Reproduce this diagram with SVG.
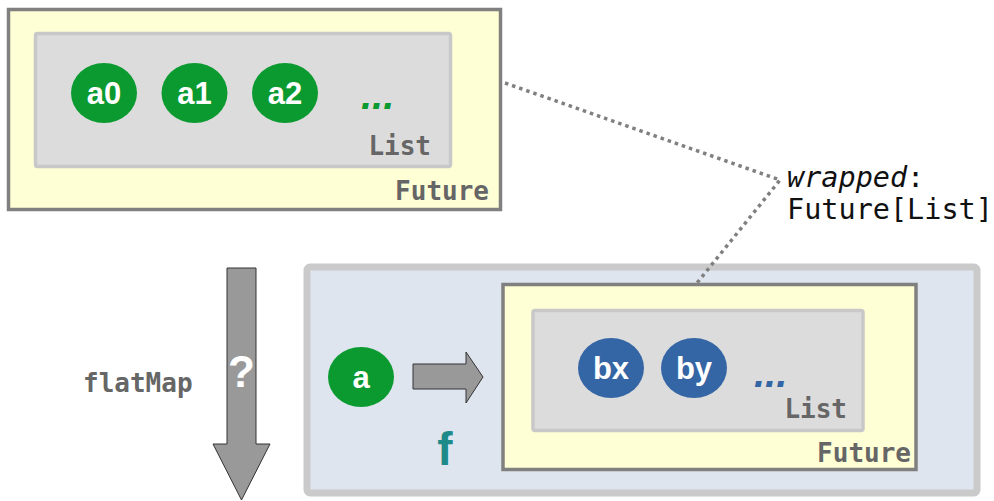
<svg xmlns="http://www.w3.org/2000/svg" width="994" height="501" viewBox="0 0 994 501">
  <style>
    .future { fill: #ffffd6; stroke: #808080; stroke-width: 3.5; }
    .list { fill: #dcdcdc; stroke: #c8c8c8; stroke-width: 3.5; }
    .scope { fill: #dfe5ee; stroke: #cacaca; stroke-width: 7; }
    .tag { font-family: "DejaVu Sans Mono", "Liberation Mono", monospace; font-weight: bold; font-size: 26px; fill: #666666; }
    .val { font-family: "Liberation Sans", Arial, sans-serif; font-weight: bold; font-size: 31px; fill: #ffffff; text-anchor: middle; }
    .green { fill: #0a9a30; }
    .blue { fill: #3465a4; }
    .more { font-family: "Liberation Sans", Arial, sans-serif; font-weight: bold; font-style: italic; font-size: 40px; }
    .bigarrow { fill: #999999; stroke: #333333; stroke-width: 1; }
    .note { font-family: "DejaVu Sans Mono", "Liberation Mono", monospace; font-size: 28.5px; fill: #111111; }
  </style>

  <!-- Future[List[A]] at the top -->
  <g id="future-a">
    <rect class="future" x="8.5" y="9.5" width="492" height="200"/>
    <text class="tag" x="489" y="200" text-anchor="end">Future</text>
  </g>
  <g id="list-a">
    <rect class="list" x="35.5" y="33.5" width="415" height="133" rx="2"/>
    <text class="tag" x="431" y="155" text-anchor="end">List</text>
    <text class="more" x="361" y="109" fill="#0a9a30">...</text>
  </g>
  <g id="a0">
    <ellipse class="green" cx="104" cy="93" rx="33" ry="30"/>
    <text class="val" x="104" y="104">a0</text>
  </g>
  <g id="a1">
    <ellipse class="green" cx="194.5" cy="93" rx="33" ry="30"/>
    <text class="val" x="194.5" y="104">a1</text>
  </g>
  <g id="a2">
    <ellipse class="green" cx="285" cy="93" rx="33" ry="30"/>
    <text class="val" x="285" y="104">a2</text>
  </g>

  <!-- flatMap step -->
  <g id="flatmap">
    <polygon class="bigarrow" points="227,268 256,268 256,444 270,444 241.5,500 213,444 227,444"/>
    <text x="241.5" y="387" text-anchor="middle" font-family="Liberation Sans, Arial, sans-serif" font-weight="bold" font-size="44" fill="#ffffff">?</text>
    <text class="tag" x="83" y="392">flatMap</text>
  </g>

  <!-- function f : A => Future[List[B]] -->
  <g id="f-scope">
    <rect class="scope" x="307" y="267" width="670" height="226" rx="3"/>
    <text x="445" y="465" text-anchor="middle" font-family="Liberation Sans, Arial, sans-serif" font-weight="bold" font-size="46" fill="#1f8a8a">f</text>
  </g>
  <g id="a">
    <ellipse class="green" cx="361" cy="377" rx="33" ry="30"/>
    <text class="val" x="361" y="388">a</text>
  </g>
  <g id="maps-to">
    <polygon class="bigarrow" points="413,364 466,364 466,352 483,377 466,403 466,389 413,389"/>
  </g>
  <g id="future-b">
    <rect class="future" x="503" y="284.5" width="413" height="185"/>
    <text class="tag" x="911" y="462" text-anchor="end">Future</text>
  </g>
  <g id="list-b">
    <rect class="list" x="533" y="310.5" width="330" height="120" rx="2"/>
    <text class="tag" x="847" y="418" text-anchor="end">List</text>
    <text class="more" x="754" y="387" fill="#3465a4">...</text>
  </g>
  <g id="bx">
    <ellipse class="blue" cx="611" cy="368" rx="33" ry="30"/>
    <text class="val" x="611" y="379">bx</text>
  </g>
  <g id="by">
    <ellipse class="blue" cx="694" cy="368" rx="33" ry="30"/>
    <text class="val" x="694" y="379">by</text>
  </g>

  <!-- annotation -->
  <g id="connectors">
    <polyline points="505,83 780,180 697,283" fill="none" stroke="#808080" stroke-width="3.5" stroke-dasharray="3.5 4"/>
  </g>
  <g id="wrapped-note">
    <text class="note" x="787" y="187"><tspan font-style="italic">wrapped</tspan>:</text>
    <text class="note" x="787" y="219">Future[List]</text>
  </g>
</svg>
